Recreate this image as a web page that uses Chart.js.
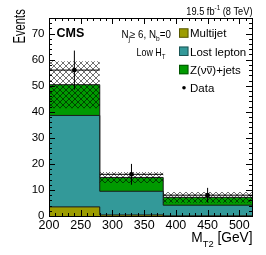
<!DOCTYPE html>
<html><head><meta charset="utf-8">
<script src="https://cdn.jsdelivr.net/npm/chart.js@4/dist/chart.umd.min.js"></script>
<style>html,body{margin:0;padding:0;background:#fff;overflow:hidden}canvas{display:block}</style>
</head><body>
<canvas id="c" width="266" height="255"></canvas>
<script>
// ---- data ----
const binEdges   = [200, 280, 380, 520];
const multijet   = [3.5, 0.4, 0.05];
const lostLepton = [35.1, 9.1, 4.1];
const zinv       = [11.8, 5.3, 3.0];
const bkgUnc     = [9.0, 2.1, 2.1];
const dataX      = [240, 330, 450];
const dataY      = [56, 16, 8];
const dataErr    = [7.5, 4.0, 2.8];
const xTickLabels = [200, 250, 300, 350, 400, 450, 500];
const yTickLabels = [0, 10, 20, 30, 40, 50, 60, 70];
const legendLabels = ['Multijet', 'Lost lepton', 'Z(νν)+jets', 'Data'];

const FONT = "'Liberation Sans', Arial, Helvetica, sans-serif";
const C_MJ = '#9c9c00', C_LL = '#339999', C_Z = '#009a00', C_LINE = '#1a1a1a';

// cumulative stacks
const cMJ = multijet.slice();
const cLL = cMJ.map((v, i) => v + lostLepton[i]);
const cZ  = cLL.map((v, i) => v + zinv[i]);
const up  = cZ.map((v, i) => v + bkgUnc[i]);
const lo  = cZ.map((v, i) => v - bkgUnc[i]);
const step = vals => binEdges.map((x, i) => ({x, y: vals[Math.min(i, vals.length - 1)]}));

// error bar segments (vertical + horizontal bin-width), separated by gaps
const errPts = [];
dataX.forEach((x, i) => {
  errPts.push({x, y: dataY[i] - dataErr[i]}, {x, y: dataY[i] + dataErr[i]}, {x, y: null});
  errPts.push({x: binEdges[i], y: dataY[i]}, {x: binEdges[i + 1], y: dataY[i]}, {x: binEdges[i + 1], y: null});
});

// hatch pattern
function hatch() {
  const s = 6, p = document.createElement('canvas');
  p.width = s; p.height = s;
  const g = p.getContext('2d');
  g.strokeStyle = 'rgba(0,0,0,0.75)'; g.lineWidth = 0.75;
  g.beginPath();
  g.moveTo(-1, -1); g.lineTo(s + 1, s + 1);
  g.moveTo(-1, s + 1); g.lineTo(s + 1, -1);
  g.stroke();
  return g.createPattern(p, 'repeat');
}

// rich text helper (sub/superscripts, overline, horizontal squeeze)
function rich(ctx, x, y, segs, base, opt = {}) {
  const sx = opt.sx || 1;
  const parts = segs.map(s => {
    const size = s.sub || s.sup ? base * 0.68 : base;
    const font = (s.bold || opt.bold ? 'bold ' : '') + size + 'px ' + FONT;
    ctx.font = font;
    return {s, font, size, w: ctx.measureText(s.t).width};
  });
  const W = parts.reduce((a, p) => a + p.w, 0);
  ctx.save();
  ctx.translate(x, y);
  if (opt.rot) ctx.rotate(opt.rot);
  ctx.scale(sx, 1);
  let cx = opt.align === 'right' ? -W : 0;
  ctx.fillStyle = '#000'; ctx.textBaseline = 'alphabetic'; ctx.textAlign = 'left';
  parts.forEach(p => {
    ctx.font = p.font;
    const dy = p.s.sub ? base * 0.3 : p.s.sup ? -base * 0.42 : 0;
    ctx.fillText(p.s.t, cx, dy);
    if (p.s.over) {
      ctx.strokeStyle = '#000'; ctx.lineWidth = 0.8;
      ctx.beginPath(); ctx.moveTo(cx + 0.5, dy - base * 0.62); ctx.lineTo(cx + p.w - 0.3, dy - base * 0.62); ctx.stroke();
    }
    cx += p.w;
  });
  ctx.restore();
}

const decor = {
  id: 'decor',
  afterDatasetsDraw(chart) {
    const {ctx, chartArea: a, scales: {x, y}} = chart;
    ctx.save();
    ctx.strokeStyle = '#000'; ctx.lineWidth = 1;
    ctx.beginPath();
    x.ticks.forEach(t => {
      const px = Math.round(x.getPixelForValue(t.value)) + 0.5;
      const L = t.value % 50 === 0 ? 6 : 3;
      ctx.moveTo(px, a.bottom); ctx.lineTo(px, a.bottom - L);
      ctx.moveTo(px, a.top); ctx.lineTo(px, a.top + L);
    });
    y.ticks.forEach(t => {
      const py = Math.round(y.getPixelForValue(t.value)) + 0.5;
      const L = t.value % 10 === 0 ? 6 : 3;
      ctx.moveTo(a.left, py); ctx.lineTo(a.left + L, py);
      ctx.moveTo(a.right, py); ctx.lineTo(a.right - L, py);
    });
    ctx.stroke();
    ctx.strokeRect(a.left + 0.5, a.top + 0.5, a.right - a.left, a.bottom - a.top);
    ctx.restore();

    // texts
    rich(ctx, 252.5, 14.8, [{t: '19.5 fb'}, {t: '-1', sup: true}, {t: ' (8 TeV)'}], 11, {align: 'right', sx: 0.84});
    rich(ctx, 56.5, 37.3, [{t: 'CMS'}], 12.5, {bold: true});
    rich(ctx, 121.5, 37.6, [{t: 'N'}, {t: 'j', sub: true}, {t: '≥ 6, N'}, {t: 'b', sub: true}, {t: '=0'}], 10.5, {sx: 0.93});
    rich(ctx, 165.5, 56.2, [{t: 'Low H'}, {t: 'T', sub: true}], 10.5, {align: 'right', sx: 0.85});
    rich(ctx, 252.5, 242.3, [{t: 'M'}, {t: 'T2', sub: true}, {t: ' [GeV]'}], 14, {align: 'right', sx: 0.98});
    rich(ctx, 25, 43.5, [{t: 'Events'}], 16.5, {rot: -Math.PI / 2, sx: 0.68});

    // legend
    const cols = [C_MJ, C_LL, C_Z];
    const base = [37.3, 55.5, 73.8, 92.0];
    legendLabels.forEach((lab, i) => {
      const by = base[i];
      if (i < 3) {
        ctx.fillStyle = cols[i];
        ctx.fillRect(179, by - 9, 9.5, 9.5);
        ctx.strokeStyle = 'rgba(0,0,0,0.45)'; ctx.lineWidth = 1;
        ctx.strokeRect(179.5, by - 8.5, 8.5, 8.5);
      } else {
        ctx.fillStyle = '#000';
        ctx.beginPath(); ctx.arc(184, by - 4.2, 1.8, 0, Math.PI * 2); ctx.fill();
      }
      if (i === 2) {
        rich(ctx, 190, by, [{t: 'Z('}, {t: 'ν'}, {t: 'ν', over: true}, {t: ')+jets'}], 11.5);
      } else {
        rich(ctx, 190, by, [{t: lab}], 11.5);
      }
    });
  }
};

const pattern = hatch();
new Chart(document.getElementById('c'), {
  type: 'line',
  data: {
    datasets: [
      {label: 'Z', data: step(cZ), stepped: 'before', fill: 'origin', backgroundColor: C_Z, borderColor: C_LINE, borderWidth: 1, pointRadius: 0, order: 10},
      {label: 'LL', data: step(cLL), stepped: 'before', fill: 'origin', backgroundColor: C_LL, borderColor: C_LINE, borderWidth: 1, pointRadius: 0, order: 9},
      {label: 'MJ', data: step(cMJ), stepped: 'before', fill: 'origin', backgroundColor: C_MJ, borderColor: C_LINE, borderWidth: 1, pointRadius: 0, order: 8},
      {label: 'lo', data: step(lo), stepped: 'before', fill: false, borderWidth: 0, borderColor: 'rgba(0,0,0,0)', pointRadius: 0, order: 7},
      {label: 'up', data: step(up), stepped: 'before', fill: {target: 3}, backgroundColor: pattern, borderWidth: 0, borderColor: 'rgba(0,0,0,0)', pointRadius: 0, order: 6},
      {label: 'err', data: errPts, fill: false, spanGaps: false, borderColor: '#000', borderWidth: 1, pointRadius: 0, order: 2},
      {label: 'Data', data: dataX.map((x, i) => ({x, y: dataY[i]})), showLine: false, pointRadius: 2.4, pointBackgroundColor: '#000', pointBorderWidth: 0, order: 1}
    ]
  },
  options: {
    responsive: false, animation: false, devicePixelRatio: 1,
    layout: {padding: {left: 0, right: 14, top: 18, bottom: 0}},
    plugins: {legend: {display: false}, tooltip: {enabled: false}},
    scales: {
      x: {
        type: 'linear', min: 200, max: 520,
        grid: {display: false, drawTicks: false}, border: {display: false},
        ticks: {stepSize: 10, autoSkip: false, maxRotation: 0, padding: 2.5, color: '#000',
                font: {family: FONT, size: 12.5},
                callback: v => xTickLabels.includes(v) ? String(v) : ''},
        afterFit: s => { s.height = 39; }
      },
      y: {
        type: 'linear', min: 0, max: 76,
        grid: {display: false, drawTicks: false}, border: {display: false},
        ticks: {stepSize: 2, autoSkip: false, padding: 4.5, color: '#000',
                font: {family: FONT, size: 11.5},
                callback: v => yTickLabels.includes(v) ? String(v) : ''},
        afterFit: s => { s.width = 49; }
      }
    }
  },
  plugins: [decor]
});
</script>
</body></html>
